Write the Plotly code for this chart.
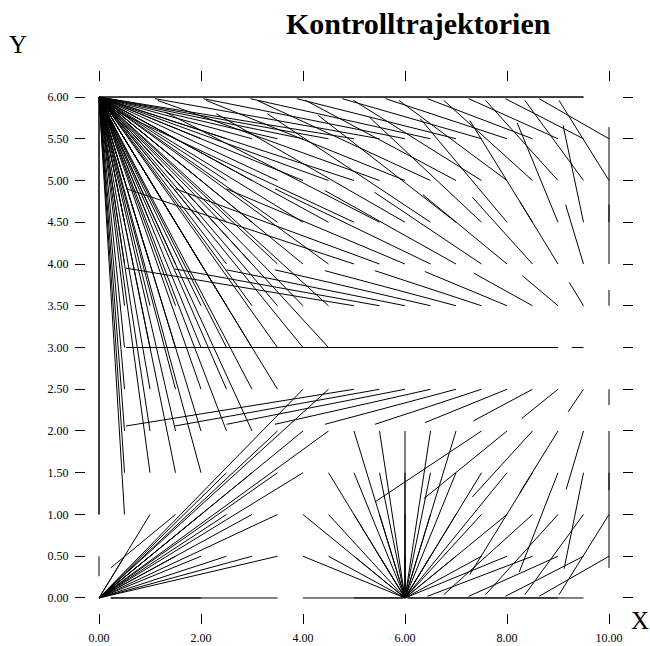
import plotly.graph_objects as go

# ---------------- data ----------------
# trajectories ending in (0,6): start points
fan6_x = [0.5,1,1.5,2,2.5,3,3.5,4,4.5,5,
          0.5,1,1.5,2,2.5,3,3.5,4,4.5,5,
          0.5,1,1.5,2,2.5,3,3.5,4,4.5,
          0.5,1,1.5,2,2.5,3,3.5,4,4.5,
          0.5,1,1.5,2,2.5,3,3.5,4,4.5,
          0.5,1,1.5,2,2.5,3,3.5,4,4.5,
          0.5,1,1.5,2,2.5,3,3.5,
          0.5,1,1.5,2,2.5,3,
          0.5,1,1.5,2,
          0,0.5]
fan6_y = ([5.5]*10 + [5.0]*10 + [4.5]*9 + [4.0]*9 + [3.5]*9 + [3.0]*9 +
          [2.5]*7 + [2.0]*6 + [1.5]*4 + [1.0]*2)

# trajectories ending in (0,0): start points
fan0_x = [0.5,1,1.5,2,2.5,3,3.5, 1,2,2.5,3,3.5, 2.5,3,3.5,4, 3.5,4,4.5, 4,4.5]
fan0_y = [0.5]*7 + [1.0]*5 + [1.5]*4 + [2.0]*3 + [2.5]*2

# trajectories ending in (6,0): start points
fan60_x = [4,4, 4.5,4.5,4.5, 5,5,5,5, 5.5,5.5,5.5,5.5, 6,6,6,6, 6.5,6.5,6.5,6.5,
           7,7,7,7, 7.5,7.5,7.5, 8,8,8]
fan60_y = [1,0.5, 1.5,1,0.5, 2,1.5,1,0.5, 2,1.5,1,0.5, 2,1.5,1,0.5, 2,1.5,1,0.5,
           2,1.5,1,0.5, 1.5,1,0.5, 1.5,1,0.5]

# partial trajectories: start (x0,y0) -> end (x1,y1)
seg_x0 = ([10,9.5,9,8.5,8,7.5,7,6.5,6,5.5] +
          [10,9.5,9,8.5,8,7.5,7,6.5,6,5.5] +
          [10,9.5,9,8.5,8,7.5,7,6.5,6,5.5,5] +
          [10,9.5,9,8.5,8,7.5,7,6.5,6,5.5,5] +
          [10,9.5,9,8.5,8,7.5,7,6.5,6,5.5,5] +
          [9.5,9,8.5,8,7.5,7,6.5,6,5.5,5] +
          [10,9.5,9,8.5,8,7.5,7,6.5,6,5.5,5] +
          [10,9.5,9,8.5,8,7.5] +
          [10,9.5,9,8.5] +
          [10,9.5,9,8.5] +
          [10,9.5,9,8.5] +
          [9.5,9,9.5,3.5,2,4,5,9.5,9,0,0,1.5])
seg_y0 = ([5.5]*10 + [5.0]*10 + [4.5]*11 + [4.0]*11 + [3.5]*11 + [3.0]*10 +
          [2.5]*11 + [2.0]*6 + [1.5]*4 + [1.0]*4 + [0.5]*4 +
          [6,6,6,0,0,0,0,0,0,1,0.5,1])
seg_x1 = ([8.63,7.97,7.25,6.44,5.62,4.77,3.88,2.97,2.05,1.1] +
          [9.02,8.35,7.58,6.76,5.88,4.99,4.05,3.1,2.1,1.15] +
          [10,9.1,8.2,7.27,6.3,5.3,4.3,3.3,2.3,1.3,0.3] +
          [10,9.15,8.25,7.32,6.35,5.4,4.43,3.45,2.5,1.5,0.54] +
          [10,9.22,8.3,7.35,6.39,5.41,4.43,3.45,2.5,1.49,0.53] +
          [9.27,8.3,7.35,6.39,5.41,4.43,3.45,2.5,1.49,0.53] +
          [10,9.2,8.29,7.34,6.39,5.41,4.43,3.45,2.5,1.49,0.53] +
          [10,9.16,8.25,7.32,6.37,5.41] +
          [10,9.12,8.24,7.27] +
          [9.02,8.35,7.58,6.76] +
          [8.63,7.97,7.25,6.44] +
          [0,0,9.0,0.23,0.23,5.97,5.97,6.05,6.05,0,0,0.23])
seg_y1 = ([5.98]*10 + [5.96]*10 +
          [5.64,5.66,5.69,5.72,5.74,5.76,5.78,5.8,5.8,5.82,5.84] +
          [4.71,4.71,4.75,4.8,4.83,4.86,4.88,4.9,4.9,4.9,4.9] +
          [3.69,3.78,3.86,3.89,3.91,3.92,3.92,3.93,3.93,3.94,3.95] +
          [3.0]*10 +
          [2.31,2.23,2.15,2.12,2.1,2.08,2.08,2.08,2.08,2.06,2.06] +
          [1.29,1.3,1.26,1.21,1.19,1.15] +
          [0.36,0.35,0.31,0.28] +
          [0.04]*4 + [0.02]*4 +
          [6,6,6,0,0,0,0,0,0,6,0.26,0.36])

x_ticks = [0,2,4,6,8,10]
x_labels = ["0.00","2.00","4.00","6.00","8.00","10.00"]
y_ticks = [0,0.5,1,1.5,2,2.5,3,3.5,4,4.5,5,5.5,6]
y_labels = ["0.00","0.50","1.00","1.50","2.00","2.50","3.00","3.50","4.00",
            "4.50","5.00","5.50","6.00"]

# ---------------- build one polyline trace ----------------
xs, ys = [], []
for x0, y0 in zip(fan6_x, fan6_y):
    xs += [x0, 0, None]; ys += [y0, 6, None]
for x0, y0 in zip(fan0_x, fan0_y):
    xs += [x0, 0, None]; ys += [y0, 0, None]
for x0, y0 in zip(fan60_x, fan60_y):
    xs += [x0, 6, None]; ys += [y0, 0, None]
for x0, y0, x1, y1 in zip(seg_x0, seg_y0, seg_x1, seg_y1):
    xs += [x0, x1, None]; ys += [y0, y1, None]

fig = go.Figure(go.Scatter(x=xs, y=ys, mode="lines",
                           line=dict(color="black", width=1), hoverinfo="skip"))

serif = "Liberation Serif"
L, R, T, B = 86, 622, 82, 613
fig.update_layout(
    width=650, height=646, margin=dict(l=L, r=650-R, t=T, b=646-B),
    paper_bgcolor="white", plot_bgcolor="white", showlegend=False,
    font=dict(family=serif, size=12, color="black"),
    xaxis=dict(range=[-0.255, 10.255], tickvals=x_ticks, ticktext=x_labels,
               ticks="outside", ticklen=10, tickcolor="black", mirror="ticks",
               showline=False, showgrid=False, zeroline=False,
               ticklabelstandoff=4, automargin=False),
    yaxis=dict(range=[-0.18, 6.18], tickvals=y_ticks, ticktext=y_labels,
               ticks="outside", ticklen=10, tickcolor="black", mirror="ticks",
               showline=False, showgrid=False, zeroline=False,
               ticklabelstandoff=4, automargin=False),
)

def px(xp, yp):
    return (xp - L) / (R - L), (B - yp) / (B - T)

annos = [("<b>Kontrolltrajektorien</b>", 418, 24, 30),
         ("Y", 18, 45, 25),
         ("X", 640, 620, 25)]
for text, xp, yp, size in annos:
    ax, ay = px(xp, yp)
    fig.add_annotation(text=text, x=ax, y=ay, xref="paper", yref="paper",
                       xanchor="center", yanchor="middle", showarrow=False,
                       font=dict(family=serif, size=size, color="black"))

fig.write_html("out.html")
